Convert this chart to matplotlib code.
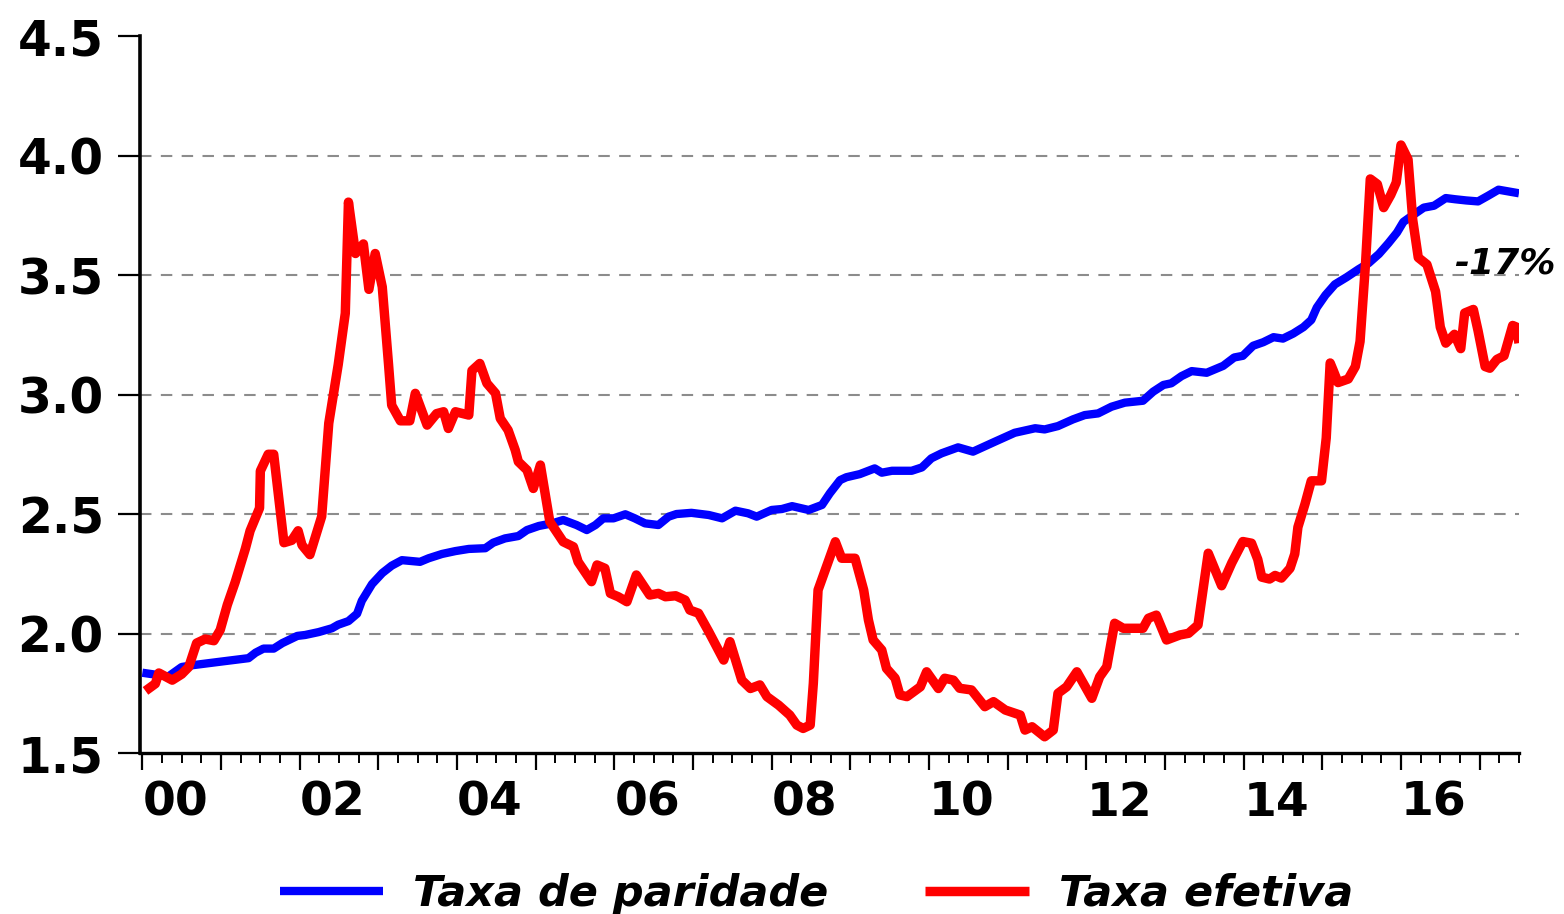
import matplotlib
matplotlib.use("Agg")
import matplotlib.pyplot as plt
from matplotlib.ticker import MultipleLocator, FixedLocator

# ---- data (decimal year, value) ----
red_t = [2000.04, 2000.165, 2000.21, 2000.38, 2000.50, 2000.59, 2000.69, 2000.80, 2000.91, 2000.99,
         2001.08, 2001.18, 2001.31, 2001.37, 2001.49, 2001.50, 2001.60, 2001.67, 2001.80, 2001.90,
         2001.98, 2002.03, 2002.13, 2002.28, 2002.37, 2002.49, 2002.58, 2002.62, 2002.71, 2002.81,
         2002.88, 2002.96, 2003.05, 2003.13, 2003.17, 2003.28, 2003.40, 2003.47, 2003.62, 2003.74,
         2003.83, 2003.89, 2003.98, 2004.15, 2004.19, 2004.29, 2004.38, 2004.49, 2004.55, 2004.65,
         2004.74, 2004.78, 2004.89, 2004.97, 2005.06, 2005.18, 2005.35, 2005.48, 2005.54, 2005.71,
         2005.78, 2005.88, 2005.95, 2006.05, 2006.16, 2006.28, 2006.45, 2006.56, 2006.65, 2006.78,
         2006.90, 2006.96, 2007.07, 2007.20, 2007.39, 2007.47, 2007.62, 2007.73, 2007.85, 2007.94,
         2008.09, 2008.23, 2008.32, 2008.40, 2008.49, 2008.53, 2008.59, 2008.81, 2008.89, 2009.06,
         2009.17, 2009.23, 2009.29, 2009.40, 2009.46, 2009.57, 2009.63, 2009.72, 2009.89, 2009.97,
         2010.12, 2010.20, 2010.31, 2010.39, 2010.54, 2010.71, 2010.82, 2010.97, 2011.16, 2011.22,
         2011.31, 2011.47, 2011.58, 2011.64, 2011.75, 2011.88, 2012.07, 2012.17, 2012.26, 2012.36,
         2012.47, 2012.72, 2012.79, 2012.89, 2013.02, 2013.19, 2013.30, 2013.42, 2013.55, 2013.72,
         2013.85, 2013.99, 2014.10, 2014.18, 2014.23, 2014.33, 2014.40, 2014.48, 2014.59, 2014.65,
         2014.69, 2014.78, 2014.86, 2014.99, 2015.05, 2015.10, 2015.14, 2015.20, 2015.33, 2015.42,
         2015.48, 2015.55, 2015.61, 2015.70, 2015.78, 2015.87, 2015.94, 2016.00, 2016.09, 2016.15,
         2016.22, 2016.33, 2016.44, 2016.50, 2016.57, 2016.68, 2016.76, 2016.81, 2016.92, 2016.98,
         2017.07, 2017.13, 2017.22, 2017.31, 2017.42, 2017.47, 2017.50]
taxa_efetiva = [1.76, 1.79, 1.835, 1.805, 1.83, 1.86, 1.96, 1.977, 1.97, 2.015,
                2.12, 2.215, 2.355, 2.43, 2.525, 2.68, 2.75, 2.75, 2.38, 2.39,
                2.43, 2.37, 2.33, 2.49, 2.88, 3.125, 3.34, 3.805, 3.59, 3.63,
                3.44, 3.59, 3.45, 3.125, 2.955, 2.89, 2.89, 3.005, 2.872, 2.92,
                2.928, 2.858, 2.928, 2.914, 3.10, 3.13, 3.047, 3.005, 2.90, 2.851,
                2.768, 2.719, 2.684, 2.607, 2.705, 2.468, 2.384, 2.363, 2.30, 2.217,
                2.287, 2.273, 2.168, 2.154, 2.133, 2.245, 2.161, 2.168, 2.154, 2.158,
                2.14, 2.098, 2.085, 2.008, 1.889, 1.966, 1.805, 1.77, 1.785, 1.736,
                1.70, 1.659, 1.617, 1.603, 1.617, 1.792, 2.182, 2.384, 2.315, 2.315,
                2.182, 2.057, 1.973, 1.931, 1.854, 1.813, 1.743, 1.736, 1.777, 1.84,
                1.77, 1.813, 1.805, 1.771, 1.764, 1.694, 1.715, 1.68, 1.659, 1.596,
                1.61, 1.568, 1.596, 1.75, 1.777, 1.84, 1.729, 1.819, 1.861, 2.043,
                2.022, 2.022, 2.064, 2.077, 1.973, 1.994, 2.001, 2.036, 2.336, 2.2,
                2.296, 2.385, 2.378, 2.31, 2.236, 2.228, 2.243, 2.232, 2.273, 2.333,
                2.445, 2.542, 2.639, 2.639, 2.818, 3.132, 3.10, 3.05, 3.065, 3.117,
                3.222, 3.55, 3.902, 3.88, 3.782, 3.835, 3.887, 4.044, 3.984, 3.73,
                3.573, 3.544, 3.431, 3.282, 3.215, 3.252, 3.192, 3.341, 3.356, 3.267,
                3.117, 3.11, 3.147, 3.162, 3.289, 3.282, 3.215]

blue_t = [2000.00, 2000.165, 2000.33, 2000.50, 2000.65, 2000.89, 2001.01, 2001.18, 2001.35, 2001.44,
          2001.54, 2001.67, 2001.78, 2001.97, 2002.07, 2002.24, 2002.41, 2002.49, 2002.62, 2002.73,
          2002.79, 2002.92, 2003.05, 2003.17, 2003.30, 2003.53, 2003.64, 2003.81, 2003.98, 2004.15,
          2004.36, 2004.46, 2004.61, 2004.78, 2004.89, 2005.04, 2005.21, 2005.35, 2005.52, 2005.65,
          2005.76, 2005.86, 2005.99, 2006.14, 2006.26, 2006.39, 2006.56, 2006.69, 2006.79, 2006.98,
          2007.20, 2007.37, 2007.54, 2007.70, 2007.81, 2008.00, 2008.13, 2008.26, 2008.47, 2008.64,
          2008.74, 2008.87, 2008.95, 2009.12, 2009.31, 2009.40, 2009.53, 2009.78, 2009.91, 2010.03,
          2010.16, 2010.37, 2010.56, 2010.84, 2011.09, 2011.35, 2011.47, 2011.64, 2011.83, 2011.98,
          2012.15, 2012.32, 2012.49, 2012.72, 2012.85, 2012.98, 2013.08, 2013.21, 2013.34, 2013.53,
          2013.74, 2013.88, 2013.99, 2014.12, 2014.25, 2014.38, 2014.50, 2014.63, 2014.76, 2014.86,
          2014.93, 2015.04, 2015.16, 2015.31, 2015.46, 2015.59, 2015.72, 2015.84, 2015.95, 2016.03,
          2016.14, 2016.29, 2016.42, 2016.57, 2016.69, 2016.83, 2016.98, 2017.11, 2017.24, 2017.50]
taxa_paridade = [1.836, 1.828, 1.82, 1.86, 1.868, 1.878, 1.883, 1.89, 1.897, 1.92,
                 1.937, 1.937, 1.96, 1.99, 1.994, 2.006, 2.022, 2.037, 2.052, 2.083,
                 2.137, 2.207, 2.253, 2.284, 2.307, 2.30, 2.315, 2.333, 2.345, 2.354,
                 2.357, 2.38, 2.398, 2.408, 2.433, 2.45, 2.461, 2.475, 2.454, 2.433,
                 2.454, 2.482, 2.482, 2.499, 2.482, 2.461, 2.454, 2.489, 2.50, 2.505,
                 2.496, 2.482, 2.514, 2.503, 2.489, 2.517, 2.521, 2.533, 2.517, 2.538,
                 2.587, 2.642, 2.654, 2.667, 2.691, 2.673, 2.681, 2.681, 2.695, 2.733,
                 2.754, 2.779, 2.761, 2.803, 2.84, 2.859, 2.854, 2.868, 2.896, 2.914,
                 2.921, 2.949, 2.966, 2.974, 3.012, 3.04, 3.047, 3.077, 3.098, 3.091,
                 3.12, 3.155, 3.162, 3.204, 3.219, 3.24, 3.234, 3.255, 3.282, 3.312,
                 3.364, 3.416, 3.461, 3.491, 3.524, 3.55, 3.588, 3.633, 3.678, 3.722,
                 3.748, 3.782, 3.79, 3.822, 3.817, 3.812, 3.808, 3.832, 3.857, 3.842]

year_ticks = list(range(2000, 2018))
year_labels = ["00", "", "02", "", "04", "", "06", "", "08", "", "10", "", "12", "", "14", "", "16", ""]
y_ticks = [1.5, 2.0, 2.5, 3.0, 3.5, 4.0, 4.5]
y_labels = ["1.5", "2.0", "2.5", "3.0", "3.5", "4.0", "4.5"]
grid_levels = [2.0, 2.5, 3.0, 3.5, 4.0]
series_names = ["Taxa de paridade", "Taxa efetiva"]
annotation = "-17%"

# ---- figure ----
fig = plt.figure(figsize=(15.64, 9.14), dpi=100)
ax = fig.add_axes([0.0895, 0.1761, 0.9712 - 0.0895, 0.9606 - 0.1761])

for g in grid_levels:
    ax.axhline(g, color="#8c8c8c", lw=1.5, dashes=(5.5, 4.5), zorder=1)

l1, = ax.plot(blue_t, taxa_paridade, color="#0000ff", lw=6.0, solid_joinstyle="round",
              solid_capstyle="butt", zorder=3, label=series_names[0])
l2, = ax.plot(red_t, taxa_efetiva, color="#ff0000", lw=6.8, solid_joinstyle="round",
              solid_capstyle="butt", zorder=4, label=series_names[1])

ax.set_xlim(1999.97, 2017.5)
ax.set_ylim(1.5, 4.5)

ax.xaxis.set_major_locator(FixedLocator(year_ticks))
ax.set_xticklabels(year_labels)
ax.xaxis.set_minor_locator(MultipleLocator(0.25))
ax.set_yticks(y_ticks)
ax.set_yticklabels(y_labels)

for s in ["top", "right"]:
    ax.spines[s].set_visible(False)
ax.spines["left"].set_linewidth(2.6)
ax.spines["bottom"].set_linewidth(2.4)

ax.tick_params(axis="x", which="major", direction="out", length=12, width=1.6, pad=8,
               labelsize=34)
ax.tick_params(axis="x", which="minor", direction="out", length=7, width=1.4)
ax.tick_params(axis="y", which="major", direction="out", length=16, width=1.6, pad=10,
               labelsize=35)
for lab in ax.get_xticklabels():
    lab.set_fontweight("bold")
    lab.set_horizontalalignment("left")
for lab in ax.get_yticklabels():
    lab.set_fontweight("bold")

ax.text(2016.68, 3.508, annotation, fontsize=26, fontweight="bold", fontstyle="italic",
        ha="left", va="baseline", zorder=5)

fig.legend(handles=[l1, l2], labels=series_names, loc="center", ncol=2,
           bbox_to_anchor=(0.522, 0.022), frameon=False,
           prop={"size": 31, "weight": "bold", "style": "italic"},
           handlelength=2.4, handletextpad=0.7, columnspacing=2.25)

fig.savefig("out.png", dpi=100)
